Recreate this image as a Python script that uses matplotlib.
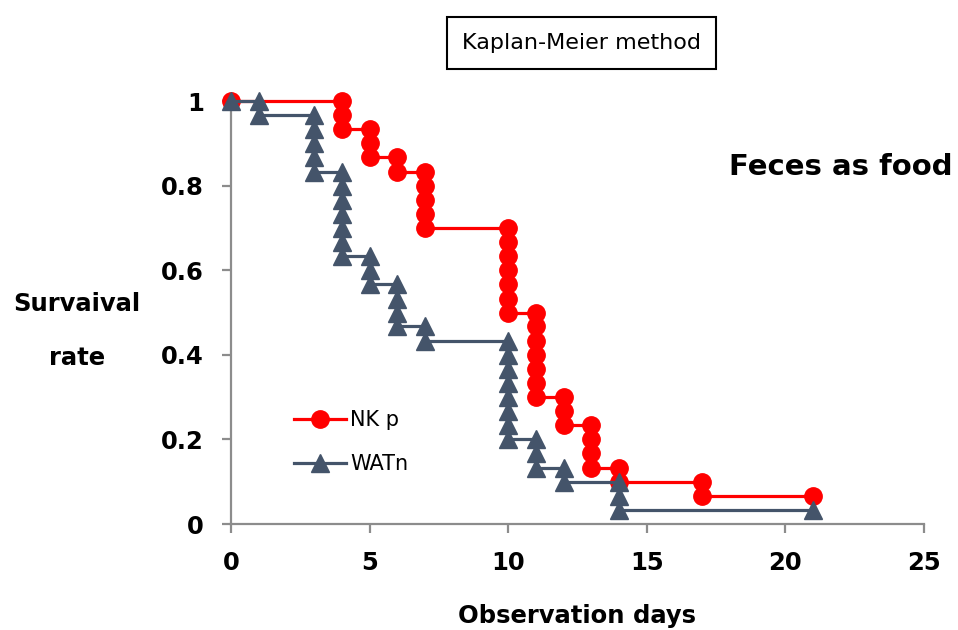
import matplotlib
matplotlib.use("Agg")
import matplotlib.pyplot as plt
from matplotlib.patches import Rectangle

# ---- data ----
nk_days = [0, 4, 4, 4, 5, 5, 5, 6, 6, 7, 7, 7, 7, 7,
           10, 10, 10, 10, 10, 10, 10,
           11, 11, 11, 11, 11, 11, 11,
           12, 12, 12, 13, 13, 13, 13, 14, 14, 17, 17, 21]
nk_rate = [1.0, 1.0, 0.967, 0.933, 0.933, 0.9, 0.867, 0.867, 0.833,
           0.833, 0.8, 0.767, 0.733, 0.7,
           0.7, 0.667, 0.633, 0.6, 0.567, 0.533, 0.5,
           0.5, 0.467, 0.433, 0.4, 0.367, 0.333, 0.3,
           0.3, 0.267, 0.233, 0.233, 0.2, 0.167, 0.133,
           0.133, 0.1, 0.1, 0.067, 0.067]

wat_days = [0, 1, 1, 3, 3, 3, 3, 3,
            4, 4, 4, 4, 4, 4, 4,
            5, 5, 5, 6, 6, 6, 6, 7, 7,
            10, 10, 10, 10, 10, 10, 10, 10,
            11, 11, 11, 12, 12, 14, 14, 14, 21]
wat_rate = [1.0, 1.0, 0.967, 0.967, 0.933, 0.9, 0.867, 0.833,
            0.833, 0.8, 0.767, 0.733, 0.7, 0.667, 0.633,
            0.633, 0.6, 0.567, 0.567, 0.533, 0.5, 0.467, 0.467, 0.433,
            0.433, 0.4, 0.367, 0.333, 0.3, 0.267, 0.233, 0.2,
            0.2, 0.167, 0.133, 0.133, 0.1, 0.1, 0.067, 0.033, 0.033]

series_labels = ["NK p", "WATn"]
x_ticks = [0, 5, 10, 15, 20, 25]
y_ticks = [0, 0.2, 0.4, 0.6, 0.8, 1.0]
y_tick_labels = ["0", "0.2", "0.4", "0.6", "0.8", "1"]

RED = "#FF0000"
BLUE = "#44546A"
GRAY = "#8C8C8C"

W, H = 958, 630
fig = plt.figure(figsize=(W / 100, H / 100), dpi=100)
ax = fig.add_axes([231 / W, 1 - 524 / H, (924 - 231) / W, (524 - 101) / H])

ax.plot(nk_days, nk_rate, color=RED, lw=2.3, marker="o", ms=12.5,
        mfc=RED, mec=RED, clip_on=False, zorder=3, label=series_labels[0])
ax.plot(wat_days, wat_rate, color=BLUE, lw=2.3, marker="^", ms=13,
        mfc=BLUE, mec=BLUE, clip_on=False, zorder=4, label=series_labels[1])

ax.set_xlim(0, 25)
ax.set_ylim(0, 1)
ax.set_xticks(x_ticks)
ax.set_xticklabels([str(v) for v in x_ticks])
ax.set_yticks(y_ticks)
ax.set_yticklabels(y_tick_labels)

for s in ["top", "right"]:
    ax.spines[s].set_visible(False)
for s in ["left", "bottom"]:
    ax.spines[s].set_color(GRAY)
    ax.spines[s].set_linewidth(1.6)

ax.tick_params(axis="both", direction="out", length=6.5, width=1.6,
               color=GRAY, labelsize=17.5, labelcolor="black")
ax.tick_params(axis="y", pad=13)
ax.tick_params(axis="x", pad=13)
for lab in ax.get_xticklabels() + ax.get_yticklabels():
    lab.set_fontweight("bold")

# Axis titles
fig.text(77 / W, 1 - 304 / H, "Survaival", ha="center", va="center",
         fontsize=17.5, fontweight="bold")
fig.text(77 / W, 1 - 358 / H, "rate", ha="center", va="center",
         fontsize=17.5, fontweight="bold")
fig.text(577 / W, 1 - 616 / H, "Observation days", ha="center", va="center",
         fontsize=17.5, fontweight="bold")

# Title box
fig.patches.append(Rectangle((447 / W, 1 - 69 / H), 269 / W, 52 / H,
                             transform=fig.transFigure, fill=False,
                             ec="black", lw=1.5))
fig.text(581.5 / W, 1 - 43 / H, "Kaplan-Meier method", ha="center",
         va="center", fontsize=16)

# Annotation
fig.text(841 / W, 1 - 167 / H, "Feces as food", ha="center", va="center",
         fontsize=21, fontweight="bold")

# Legend
leg = ax.legend(loc="center left", bbox_to_anchor=(294 / W, 1 - 442 / H),
                bbox_transform=fig.transFigure, frameon=False,
                numpoints=1, fontsize=15, handlelength=2.5,
                handletextpad=0.2, labelspacing=1.15, borderpad=0,
                borderaxespad=0)

fig.savefig("out.png", dpi=100)
